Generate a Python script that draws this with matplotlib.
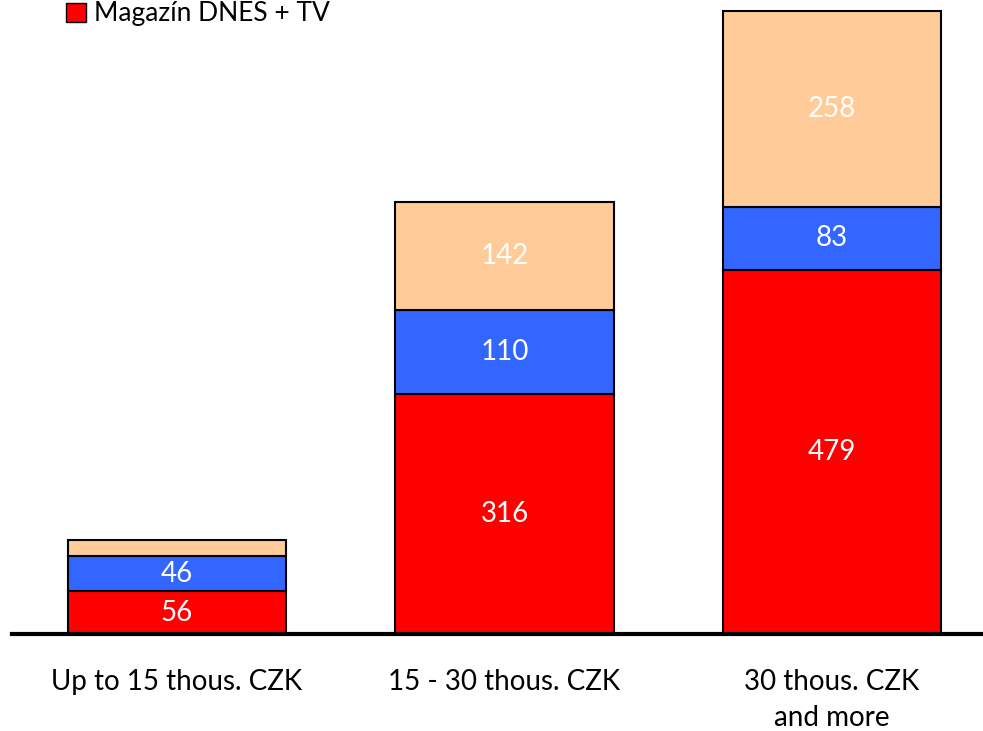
import matplotlib.pyplot as plt
from matplotlib.patches import Patch
import numpy as np

plt.rcParams['font.family'] = ['Lato', 'DejaVu Sans']

categories = ["Up to 15 thous. CZK", "15 - 30 thous. CZK", "30 thous. CZK\nand more"]
magazin_tv = [56, 316, 479]
blue_series = [46, 110, 83]
peach_series = [21, 142, 258]

series = [
    ("Magazín DNES + TV", magazin_tv, "#FF0000"),
    ("blue", blue_series, "#3366FF"),
    ("peach", peach_series, "#FFCC99"),
]

fig = plt.figure(figsize=(9.83, 7.31), dpi=100)
ax = fig.add_axes([12 / 983, 97 / 731, 971 / 983, 634 / 731])

x = np.arange(len(categories))
bottom = np.zeros(len(categories))
for name, vals, color in series:
    vals = np.array(vals, dtype=float)
    bars = ax.bar(x, vals, width=0.666, bottom=bottom, color=color,
                  edgecolor="black", linewidth=1.5, zorder=2)
    labels = [f"{v:.0f}" if v >= 30 else "" for v in vals]
    ax.bar_label(bars, labels=labels, label_type="center", color="white", fontsize=20)
    bottom += vals

ax.set_xlim(-0.504, 2.461)
ax.set_ylim(0, 834)
ax.set_xticks(x)
ax.set_xticklabels(categories, fontsize=20, linespacing=1.5, va="top")
ax.tick_params(axis="x", length=0, pad=25)
ax.set_yticks([])
for side in ["top", "right", "left"]:
    ax.spines[side].set_visible(False)
ax.spines["bottom"].set_linewidth(3)
ax.spines["bottom"].set_zorder(3)

handle = Patch(facecolor="#FF0000", edgecolor="black", linewidth=1.0)
fig.legend([handle], ["Magazín DNES + TV"], loc="center left",
           bbox_to_anchor=(66 / 983, 1 - 14 / 731), frameon=False,
           fontsize=19, handlelength=0.75, handleheight=0.75, handletextpad=0.3,
           borderpad=0, borderaxespad=0)

fig.savefig("out.png", dpi=100)
